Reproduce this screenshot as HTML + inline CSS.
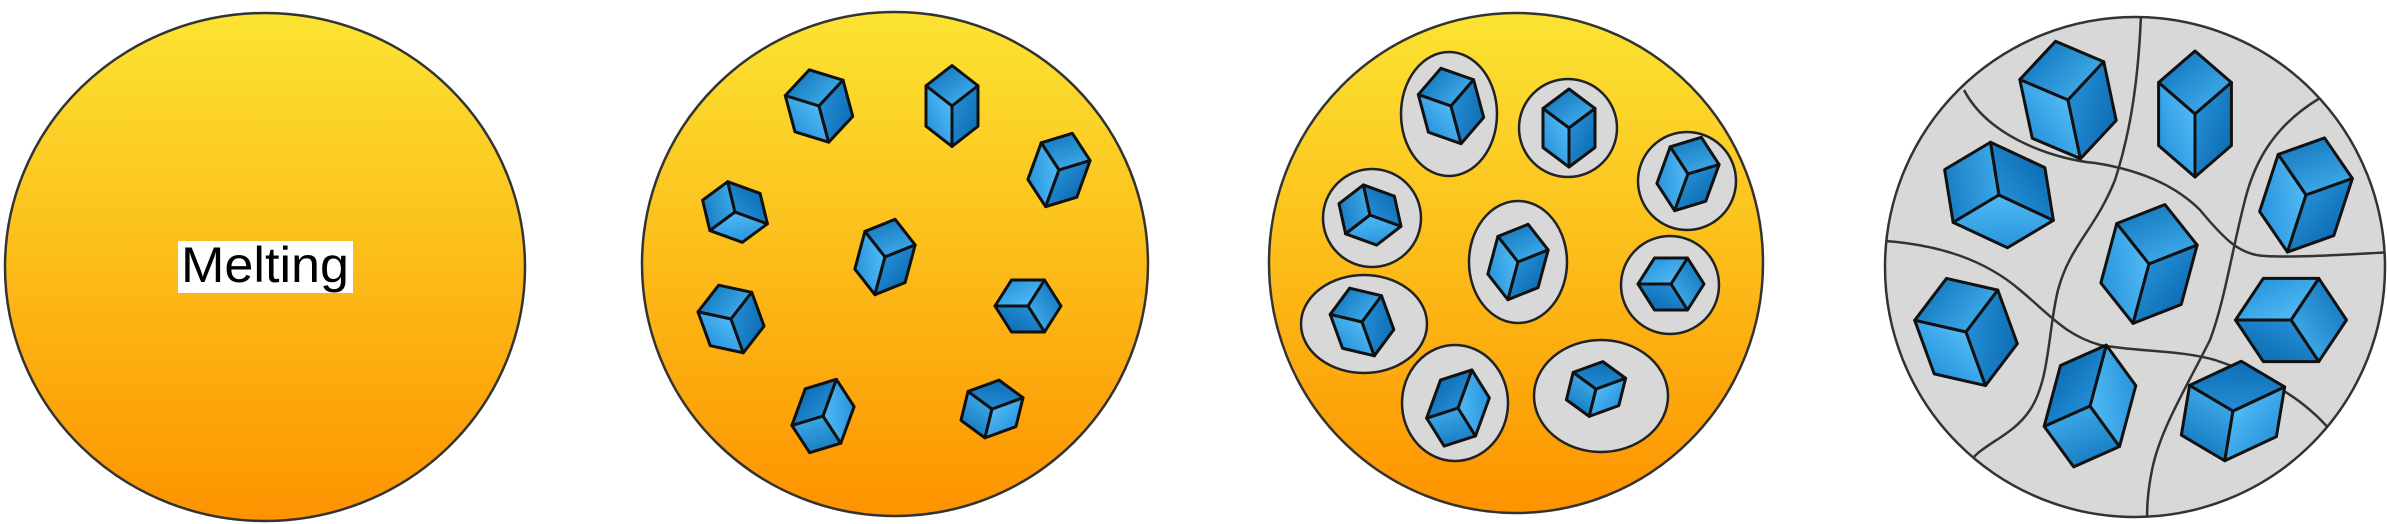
<!DOCTYPE html>
<html><head><meta charset="utf-8"><style>
html,body{margin:0;padding:0;background:#fff;}
svg{display:block;}
</style></head><body>
<svg width="2387" height="524" viewBox="0 0 2387 524" xmlns="http://www.w3.org/2000/svg">
<defs>
<linearGradient id="melt" x1="0" y1="0" x2="0" y2="1">
<stop offset="0" stop-color="#fbe433"/><stop offset="1" stop-color="#fd9300"/>
</linearGradient>
<linearGradient id="b1" x1="0" y1="0" x2="1" y2="1">
<stop offset="0" stop-color="#0b6db5"/><stop offset="1" stop-color="#4ab8f5"/>
</linearGradient>
<linearGradient id="b2" x1="1" y1="0" x2="0" y2="1">
<stop offset="0" stop-color="#5cc4fb"/><stop offset="1" stop-color="#1d8ad6"/>
</linearGradient>
<linearGradient id="b3" x1="0" y1="0" x2="1" y2="1">
<stop offset="0" stop-color="#2a95dc"/><stop offset="1" stop-color="#0866ad"/>
</linearGradient>
<g id="cube">
<polygon points="0,-30 26,-15 0,0 -26,-15" fill="url(#b1)" stroke="#111" stroke-width="3" stroke-linejoin="round" vector-effect="non-scaling-stroke"/>
<polygon points="-26,-15 0,0 0,30 -26,15" fill="url(#b2)" stroke="#111" stroke-width="3" stroke-linejoin="round" vector-effect="non-scaling-stroke"/>
<polygon points="0,0 26,-15 26,15 0,30" fill="url(#b3)" stroke="#111" stroke-width="3" stroke-linejoin="round" vector-effect="non-scaling-stroke"/>
</g>
<clipPath id="c4clip"><circle cx="2135" cy="267" r="250"/></clipPath>
</defs>

<g>
<ellipse cx="265" cy="267" rx="260" ry="254" fill="url(#melt)" stroke="#333" stroke-width="2.5"/>
<rect x="178" y="241" width="175" height="52" fill="#fff"/>
<text x="181" y="282" textLength="168" lengthAdjust="spacingAndGlyphs" font-family="Liberation Sans, sans-serif" font-size="50" fill="#000">Melting</text>
</g>

<g>
<ellipse cx="895" cy="264" rx="253" ry="252" fill="url(#melt)" stroke="#333" stroke-width="2.5"/>
<use href="#cube" transform="translate(819,106) rotate(-15) scale(1.15,1.25)"/>
<use href="#cube" transform="translate(952,106) rotate(0) scale(1.0,1.35)"/>
<use href="#cube" transform="translate(1059,170) rotate(20) scale(1.0,1.3)"/>
<use href="#cube" transform="translate(735,212) rotate(-70) scale(1.0,1.15)"/>
<use href="#cube" transform="translate(885,257) rotate(15) scale(1.0,1.3)"/>
<use href="#cube" transform="translate(1028,306) rotate(90) scale(1.0,1.1)"/>
<use href="#cube" transform="translate(731,319) rotate(-20) scale(1.1,1.2)"/>
<use href="#cube" transform="translate(823,416) rotate(200) scale(1.0,1.3)"/>
<use href="#cube" transform="translate(992,409) rotate(-110) scale(0.95,1.1)"/>
</g>

<g>
<ellipse cx="1516" cy="263" rx="247" ry="250" fill="url(#melt)" stroke="#333" stroke-width="2.5"/>
<g fill="#d8d8d8" stroke="#222" stroke-width="2.5">
<ellipse cx="1449" cy="114" rx="48" ry="62"/>
<ellipse cx="1568" cy="128" rx="49" ry="49"/>
<ellipse cx="1687" cy="181" rx="49" ry="49"/>
<ellipse cx="1372" cy="218" rx="49" ry="49"/>
<ellipse cx="1518" cy="262" rx="49" ry="61"/>
<ellipse cx="1670" cy="285" rx="49" ry="49"/>
<ellipse cx="1364" cy="324" rx="63" ry="49"/>
<ellipse cx="1455" cy="403" rx="53" ry="58"/>
<ellipse cx="1601" cy="396" rx="67" ry="56"/>
</g>
<use href="#cube" transform="translate(1451,106) rotate(-15) scale(1.1,1.3)"/>
<use href="#cube" transform="translate(1569,128) rotate(0) scale(1.0,1.3)"/>
<use href="#cube" transform="translate(1688,174) rotate(20) scale(1.0,1.3)"/>
<use href="#cube" transform="translate(1370,215) rotate(-70) scale(1.0,1.1)"/>
<use href="#cube" transform="translate(1518,262) rotate(15) scale(1.0,1.3)"/>
<use href="#cube" transform="translate(1671,284) rotate(90) scale(1.0,1.1)"/>
<use href="#cube" transform="translate(1362,322) rotate(-20) scale(1.05,1.2)"/>
<use href="#cube" transform="translate(1458,408) rotate(200) scale(1.0,1.35)"/>
<use href="#cube" transform="translate(1596,389) rotate(-110) scale(0.9,1.05)"/>
</g>

<g>
<circle cx="2135" cy="267" r="250" fill="#d8d8d8" stroke="#333" stroke-width="2.5"/>
<g clip-path="url(#c4clip)" fill="none" stroke="#333" stroke-width="2.5">
<path d="M2141,15 C2138,90 2128,140 2115,180 C2095,230 2070,245 2058,290 C2048,330 2050,380 2030,410 C2010,440 1975,445 1965,470"/>
<path d="M1964,90 C1990,140 2060,160 2095,163 C2140,170 2175,185 2200,210 C2225,240 2240,255 2265,256 C2300,258 2350,254 2395,252"/>
<path d="M2320,98 C2275,125 2255,160 2245,200 C2232,250 2225,300 2210,340 C2185,390 2160,430 2152,470 C2147,495 2147,510 2147,525"/>
<path d="M1885,241 C1940,245 1985,260 2020,290 C2050,315 2065,335 2100,345 C2140,352 2180,350 2215,360 C2260,375 2300,395 2330,430"/>
</g>
<use href="#cube" transform="translate(2068,100) rotate(-12) scale(1.65,2.0)"/>
<use href="#cube" transform="translate(2195,114) rotate(0) scale(1.4,2.1)"/>
<use href="#cube" transform="translate(2306,195) rotate(18) scale(1.5,2.0)"/>
<use href="#cube" transform="translate(1999,195) rotate(-65) scale(1.7,2.0)"/>
<use href="#cube" transform="translate(2149,264) rotate(15) scale(1.6,2.05)"/>
<use href="#cube" transform="translate(2291,320) rotate(90) scale(1.6,1.85)"/>
<use href="#cube" transform="translate(1966,332) rotate(-20) scale(1.7,1.9)"/>
<use href="#cube" transform="translate(2090,406) rotate(195) scale(1.5,2.1)"/>
<use href="#cube" transform="translate(2233,411) rotate(-115) scale(1.6,1.9)"/>
</g>
</svg>
</body></html>
